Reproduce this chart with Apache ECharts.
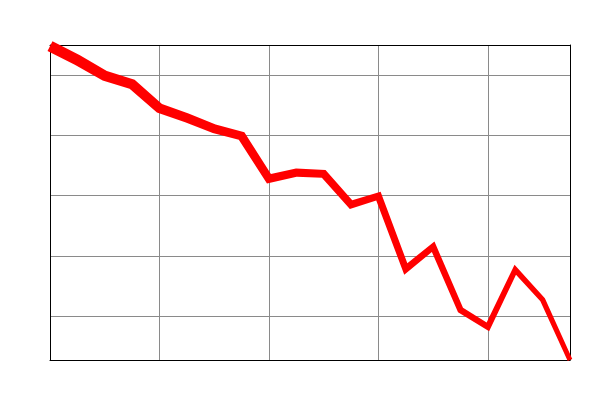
<!DOCTYPE html>
<html>
<head>
<meta charset="utf-8">
<script src="https://cdn.jsdelivr.net/npm/echarts@6/dist/echarts.min.js"></script>
<style>html,body{margin:0;padding:0;background:#fff;}#c{width:600px;height:400px;}</style>
</head>
<body>
<div id="c"></div>
<script>
// x positions (periods) and series values
var periods = [0,1,2,3,4,5,6,7,8,9,10,11,12,13,14,15,16,17,18,19];
var values = [54.8,52.5,49.9,48.5,44.5,42.9,41.1,39.9,32.8,33.8,33.6,28.5,29.9,17.8,21.5,11.0,8.2,17.7,12.7,2.7];
var xRange = [0, 19];
var yRange = [2.7, 55];

var chart = echarts.init(document.getElementById('c'), null, {renderer: 'canvas'});

function widthAt(i, n) { return 11 - 6 * i / (n - 1); }

function renderBand(params, api) {
  if (params.dataIndex !== 0) return null;
  var n = periods.length;
  var pts = [];
  for (var i = 0; i < n; i++) pts.push(api.coord([periods[i], values[i]]));
  var top = [], bot = [];
  for (var k = 0; k < n; k++) {
    var n1 = null, n2 = null;
    if (k > 0) {
      var dx = pts[k][0] - pts[k-1][0], dy = pts[k][1] - pts[k-1][1];
      var l = Math.sqrt(dx*dx + dy*dy); n1 = [-dy/l, dx/l];
    }
    if (k < n - 1) {
      var dx2 = pts[k+1][0] - pts[k][0], dy2 = pts[k+1][1] - pts[k][1];
      var l2 = Math.sqrt(dx2*dx2 + dy2*dy2); n2 = [-dy2/l2, dx2/l2];
    }
    var hw = widthAt(k, n) / 2, off;
    if (n1 && n2) {
      var mx = n1[0] + n2[0], my = n1[1] + n2[1];
      var ml = Math.sqrt(mx*mx + my*my); mx /= ml; my /= ml;
      var len = hw / (mx*n1[0] + my*n1[1]);
      off = [mx*len, my*len];
    } else {
      var nn = n1 || n2; off = [nn[0]*hw, nn[1]*hw];
    }
    top.push([pts[k][0] + off[0], pts[k][1] + off[1]]);
    bot.push([pts[k][0] - off[0], pts[k][1] - off[1]]);
  }
  var poly = top.concat(bot.reverse());
  return {
    type: 'polygon',
    shape: { points: poly },
    style: { fill: '#ff0000', stroke: null }
  };
}

var hiddenBits = { axisTick: { show: false }, axisLabel: { show: false } };
var gridLine = { show: true, showMinLine: false, showMaxLine: false, lineStyle: { color: '#8a8a8a', width: 1 } };
var frameLine = { show: true, onZero: false, lineStyle: { color: '#000000', width: 1 } };

var option = {
  animation: false,
  backgroundColor: '#ffffff',
  grid: { left: 50, right: 30, top: 45, bottom: 40 },
  xAxis: [
    Object.assign({ type: 'value', position: 'bottom', min: xRange[0], max: xRange[1], interval: 4,
      axisLine: frameLine, splitLine: gridLine }, hiddenBits),
    Object.assign({ type: 'value', position: 'top', min: xRange[0], max: xRange[1], interval: 4,
      axisLine: frameLine, splitLine: { show: false } }, hiddenBits)
  ],
  yAxis: [
    Object.assign({ type: 'value', position: 'left', min: yRange[0], max: yRange[1], splitNumber: 5,
      axisLine: frameLine, splitLine: gridLine }, hiddenBits),
    Object.assign({ type: 'value', position: 'right', min: yRange[0], max: yRange[1], splitNumber: 5,
      axisLine: frameLine, splitLine: { show: false } }, hiddenBits)
  ],
  series: [{
    type: 'custom',
    renderItem: renderBand,
    clip: false,
    z: 10,
    xAxisIndex: 0,
    yAxisIndex: 0,
    data: periods.map(function (p, i) { return [p, values[i]]; })
  }]
};
chart.setOption(option);
</script>
</body>
</html>
